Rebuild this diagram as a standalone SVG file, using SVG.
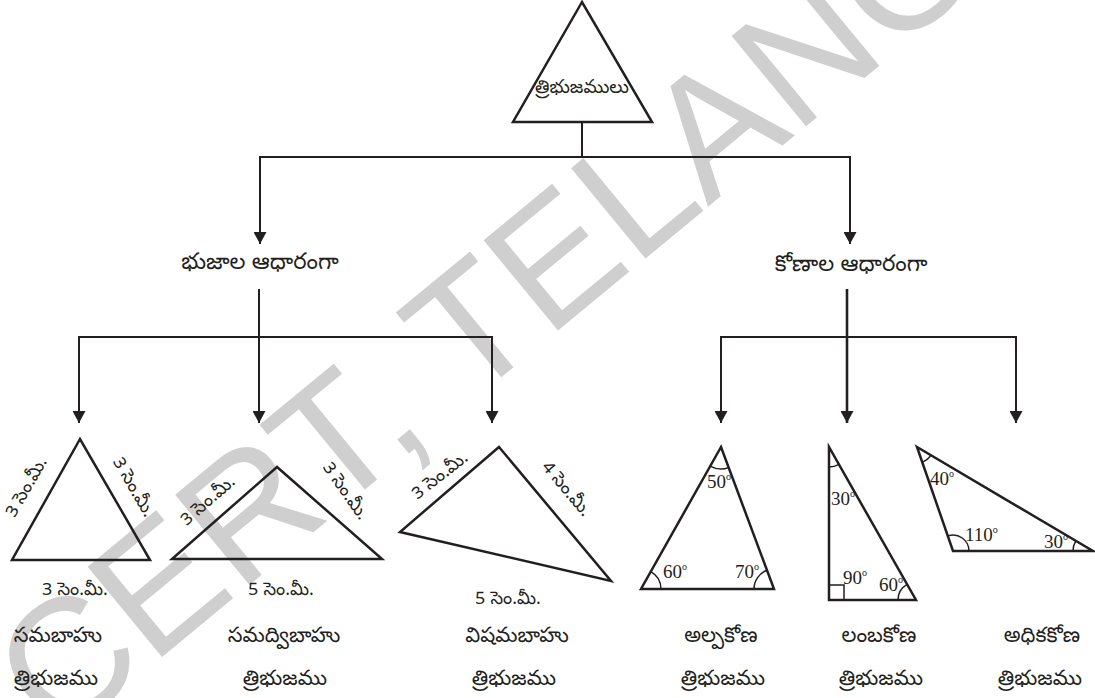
<svg xmlns="http://www.w3.org/2000/svg" width="1095" height="698" viewBox="0 0 1095 698">
<defs>
<marker id="ah" viewBox="0 0 12 13" refX="12" refY="6.5" markerWidth="12" markerHeight="13" markerUnits="userSpaceOnUse" orient="auto"><path d="M0,0 L12,6.5 L0,13 z" fill="#231f20"/></marker>
<style>
.conn{fill:none;stroke:#231f20;stroke-width:2}
.tri{fill:none;stroke:#231f20;stroke-width:2.5;stroke-linejoin:miter}
.arc{fill:none;stroke:#231f20;stroke-width:1.5}
.te{font-family:"Noto Sans Telugu","Noto Serif Telugu","Lohit Telugu",sans-serif;fill:#231f20;text-anchor:middle;dominant-baseline:central}
.nm{font-size:21px}
.ms{font-size:18px}
.sd{font-size:18px}
.deg{font-family:"Liberation Serif","Times New Roman",serif;font-size:19px;fill:#231f20}
.sup{font-size:10px}
.wm{font-family:"Liberation Sans",Arial,sans-serif;font-size:170px;fill:#cfcfcf}
</style>
</defs>
<rect width="1095" height="698" fill="#ffffff"/>
<g id="watermark"><text class="wm" transform="translate(-31,816) rotate(-39.5)">SCERT, TELANGANA</text></g>

<g id="connectors">
<path class="conn" d="M582,122 V157"/>
<path class="conn" d="M582,157 H260 V244" marker-end="url(#ah)"/>
<path class="conn" d="M582,157 H850 V244" marker-end="url(#ah)"/>
<path class="conn" d="M259,289 V337 H79 V423" marker-end="url(#ah)"/>
<path class="conn" d="M259,337 V423" marker-end="url(#ah)"/>
<path class="conn" d="M259,337 H492 V423" marker-end="url(#ah)"/>
<path class="conn" d="M847,289 V423" marker-end="url(#ah)" style="stroke-width:2.6"/>
<path class="conn" d="M847,337 H721 V423" marker-end="url(#ah)"/>
<path class="conn" d="M847,337 H1016 V423" marker-end="url(#ah)"/>
</g>

<g id="root">
<polygon class="tri" points="582,2 513,122 652,122"/>
<text class="te" x="582" y="89" style="font-size:18.5px">త్రిభుజములు</text>
</g>

<g id="by-sides"><text class="te" x="260" y="264" style="font-size:22.5px">భుజాల ఆధారంగా</text></g>
<g id="by-angles"><text class="te" x="851" y="266" style="font-size:22.5px">కోణాల ఆధారంగా</text></g>

<g id="equilateral">
<polygon class="tri" points="80,439 12,560 150,560"/>
<text class="te sd" transform="translate(28,488) rotate(-60)">3 సెం.మీ.</text>
<text class="te sd" transform="translate(132,488) rotate(60)">3 సెం.మీ.</text>
<text class="te ms" x="75" y="591">3 సెం.మీ.</text>
<text class="te nm" x="58" y="638">సమబాహు</text>
<text class="te nm" x="56" y="681">త్రిభుజము</text>
</g>

<g id="isosceles">
<polygon class="tri" points="277,467 172,559 382,559"/>
<text class="te sd" transform="translate(209,502) rotate(-41)">3 సెం.మీ.</text>
<text class="te sd" transform="translate(344,492) rotate(55)">3 సెం.మీ.</text>
<text class="te ms" x="281" y="591">5 సెం.మీ.</text>
<text class="te nm" x="284" y="638">సమద్విబాహు</text>
<text class="te nm" x="285" y="681">త్రిభుజము</text>
</g>

<g id="scalene">
<polygon class="tri" points="499,447 400,532 611,581"/>
<text class="te sd" transform="translate(441,477) rotate(-38)">3 సెం.మీ.</text>
<text class="te sd" transform="translate(565,490) rotate(50)">4 సెం.మీ.</text>
<text class="te ms" x="508" y="600">5 సెం.మీ.</text>
<text class="te nm" x="517" y="638">విషమబాహు</text>
<text class="te nm" x="514" y="681">త్రిభుజము</text>
</g>

<g id="acute">
<polygon class="tri" points="721,447 641,589 774,589"/>
<path class="arc" d="M710.2,466.2 A22,22 0 0,0 728.7,467.6"/>
<path class="arc" d="M650.8,571.6 A20,20 0 0,1 661,589"/>
<path class="arc" d="M767,570.3 A20,20 0 0,0 754,589"/>
<text class="deg" x="707" y="488">50<tspan class="sup" dy="-8">o</tspan></text>
<text class="deg" x="663" y="578">60<tspan class="sup" dy="-8">o</tspan></text>
<text class="deg" x="735" y="578">70<tspan class="sup" dy="-8">o</tspan></text>
<text class="te nm" x="721" y="638">అల్పకోణ</text>
<text class="te nm" x="723" y="681">త్రిభుజము</text>
</g>

<g id="right">
<polygon class="tri" points="829,447 829,600 916,600"/>
<path class="arc" d="M829,467 A20,20 0 0,0 838.9,464.4"/>
<path class="arc" d="M898,600 A18,18 0 0,1 907.1,584.4"/>
<path class="arc" d="M829,585 H844 V600"/>
<text class="deg" x="831" y="505">30<tspan class="sup" dy="-8">o</tspan></text>
<text class="deg" x="843" y="584">90<tspan class="sup" dy="-8">o</tspan></text>
<text class="deg" x="879" y="591">60<tspan class="sup" dy="-8">o</tspan></text>
<text class="te nm" x="879" y="638">లంబకోణ</text>
<text class="te nm" x="881" y="681">త్రిభుజము</text>
</g>

<g id="obtuse">
<polygon class="tri" points="917,447 953,551 1093,551"/>
<path class="arc" d="M922.2,462.1 A16,16 0 0,0 930.8,455.1"/>
<path class="arc" d="M947.8,535.9 A16,16 0 0,1 969,551"/>
<path class="arc" d="M1073,551 A20,20 0 0,1 1075.8,540.8"/>
<text class="deg" x="930" y="485">40<tspan class="sup" dy="-8">o</tspan></text>
<text class="deg" x="965" y="541">110<tspan class="sup" dy="-8">o</tspan></text>
<text class="deg" x="1044" y="548">30<tspan class="sup" dy="-8">o</tspan></text>
<text class="te nm" x="1042" y="638">అధికకోణ</text>
<text class="te nm" x="1040" y="681">త్రిభుజము</text>
</g>
</svg>
